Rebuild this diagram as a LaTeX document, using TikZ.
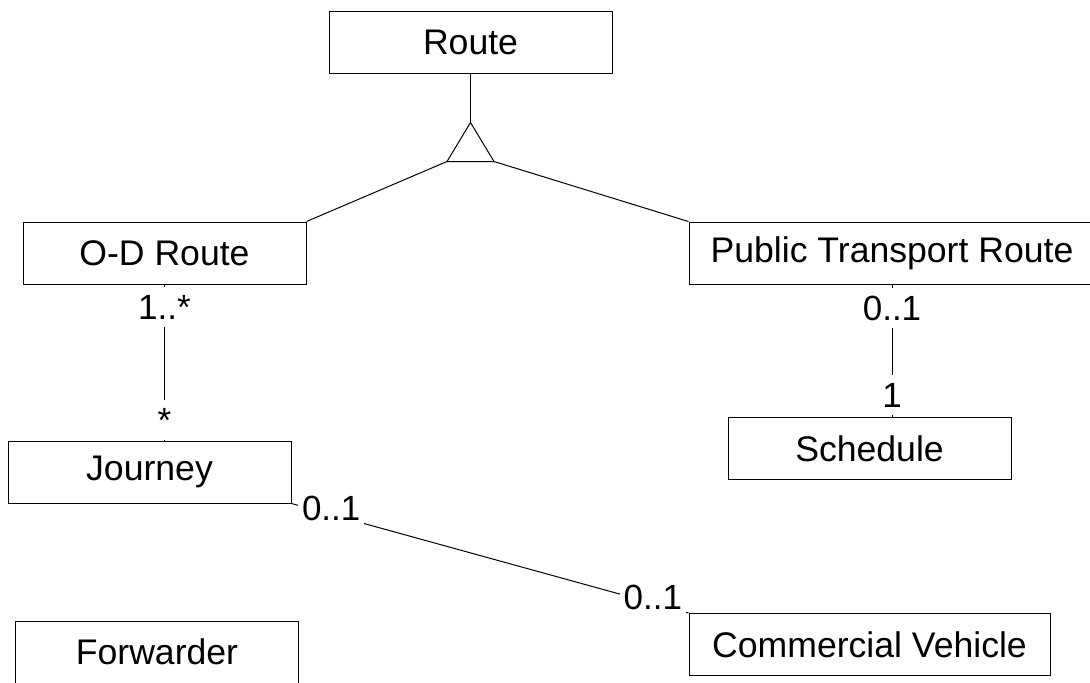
\documentclass[tikz,border=0pt]{standalone}
\usepackage{fontspec}
\setmainfont{Liberation Sans}
\usetikzlibrary{calc}

\begin{document}
\begin{tikzpicture}[x=0.5pt, y=-0.5pt, line width=0.5pt,
    classbox/.style={draw, minimum width=141.5pt, minimum height=31pt, inner sep=0pt, font=\fontsize{17.8}{21}\selectfont},
    mult/.style={fill=white, inner sep=2pt, minimum height=20pt, font=\fontsize{17.5}{21}\selectfont}]

    \useasboundingbox (0, 0) rectangle (1090, 682);

    % Draw Classes
    \node[classbox] (route) at (470.5, 42) {Route};
    \node[classbox] (odroute) at (164.5, 253) {O-D Route};
    \node[classbox, minimum width=203pt] (ptroute) at (892, 253) {Public Transport Route};
    \node[classbox] (journey) at (149.5, 472) {Journey};
    \node[classbox] (schedule) at (869.5, 448.5) {Schedule};
    \node[classbox, minimum width=180.5pt] (vehicle) at (869.5, 644.5) {Commercial Vehicle};
    \node[classbox] (forwarder) at (157, 652) {Forwarder};

    % Generalisation
    \coordinate (gentop) at ($(route.south) + (0, 49)$);
    \coordinate (genleft) at ($(gentop) + (-23.5, 39)$);
    \coordinate (genright) at ($(gentop) + (23.5, 39)$);
    \draw (route.south) -- (gentop);
    \draw (gentop) -- (genleft) -- (genright) -- cycle;
    \draw (genleft) -- (odroute.north east);
    \draw (genright) -- (ptroute.north west);

    % Associations
    \draw (odroute.south) -- (odroute.south |- journey.north)
        node[mult, pos=0.146] {1..*}
        node[mult, pos=0.87] {*};
    \draw (ptroute.south) -- (ptroute.south |- schedule.north)
        node[mult, pos=0.18] {0..1}
        node[mult, pos=0.836] {1};
    \draw (journey.south east) -- (vehicle.north west)
        node[mult, pos=0.1, yshift=3pt] {0..1}
        node[mult, pos=0.91, yshift=3pt] {0..1};
\end{tikzpicture}
\end{document}
